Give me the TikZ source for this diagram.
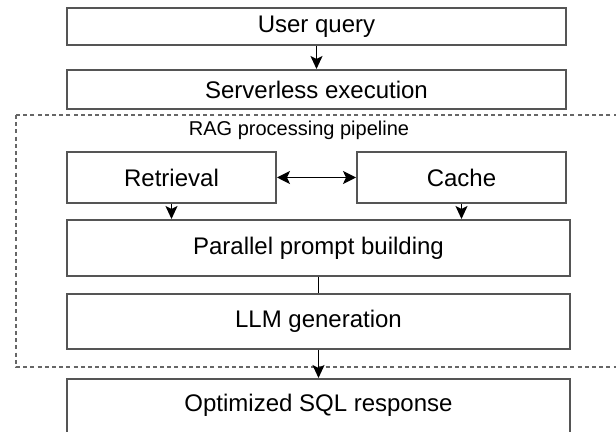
\documentclass[tikz,border=0pt]{standalone}
\usepackage{fontspec}
\setmainfont{Liberation Sans}
\usetikzlibrary{arrows.meta}

\definecolor{boxline}{HTML}{555555}
\definecolor{dashline}{HTML}{666666}

\tikzset{
  stagebox/.style={draw=boxline, line width=1pt, rectangle, inner sep=0pt, font=\fontsize{12}{14}\selectfont},
  flow/.style={-{Stealth[length=6.5pt, width=6pt, inset=1.5pt]}, line width=0.75pt},
  twoway/.style={{Stealth[length=6.5pt, width=6.5pt, inset=1.5pt]}-{Stealth[length=6.5pt, width=6.5pt, inset=1.5pt]}, line width=0.75pt},
}

\begin{document}
\begin{tikzpicture}[x=0.5pt, y=-0.5pt]
        \clip (0,0) rectangle (616,432);

        % Pipeline frame
        \draw[dashline, line width=0.6pt, dash pattern=on 2pt off 1.6pt] (16,115) rectangle (630,367);
        \node[font=\fontsize{10}{12}\selectfont] (ragtitle) at (299,130) {RAG processing pipeline};

        % Stages
        \node[stagebox, minimum width=249.5pt, minimum height=18.5pt] (query) at (316.5,26.7) {User query};
        \node[stagebox, minimum width=249.5pt, minimum height=19.5pt] (serverless) at (316.5,89.5) {Serverless execution};
        \node[stagebox, minimum width=104.5pt, minimum height=25.5pt] (retrieval) at (171.5,177.5) {Retrieval};
        \node[stagebox, minimum width=104.5pt, minimum height=25.5pt] (cache) at (461.5,177.5) {Cache};
        \node[stagebox, minimum width=251.5pt, minimum height=28pt] (parallel) at (318.5,248) {Parallel prompt building};
        \node[stagebox, minimum width=251.5pt, minimum height=27.5pt] (llm) at (318.5,321.5) {LLM generation};
        \node[stagebox, minimum width=251.5pt, minimum height=30pt] (sql) at (318.5,409) {\raisebox{6pt}{Optimized SQL response}};

        % Arrows
        \draw[flow] (query) -- (serverless);
        \draw[twoway] (retrieval) -- (cache);
        \foreach \src in {retrieval, cache} {
            \draw[flow] (\src.south) -- (\src.south |- parallel.north);
        }
        \draw[line width=0.75pt] (parallel) -- (llm);
        \draw[flow] (llm.south) -- (llm.south |- sql.north);
\end{tikzpicture}
\end{document}
